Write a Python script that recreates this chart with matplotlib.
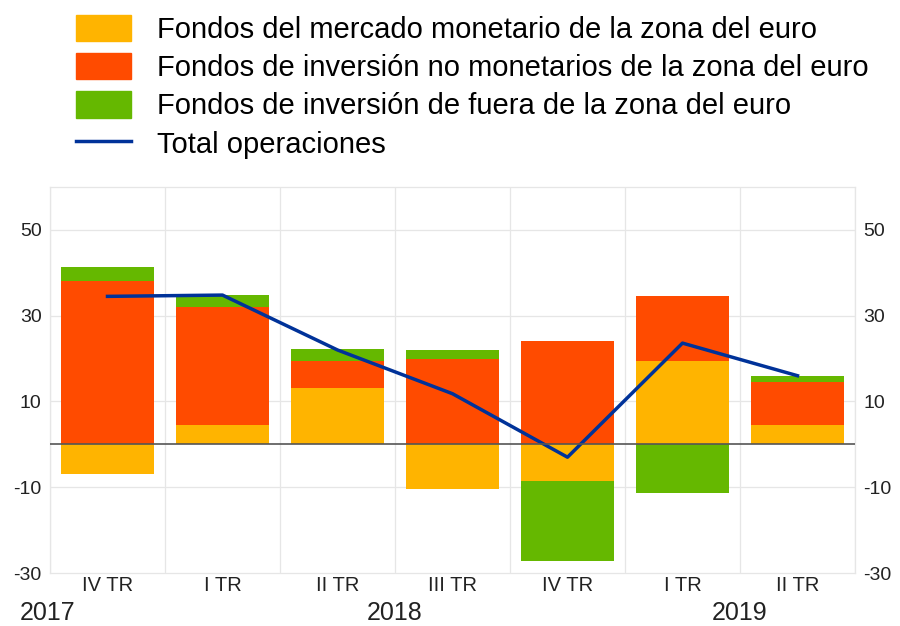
import numpy as np
import matplotlib.pyplot as plt
from matplotlib.patches import Patch
from matplotlib.lines import Line2D

plt.rcParams['font.family'] = ['Liberation Sans', 'DejaVu Sans']
plt.rcParams['axes.unicode_minus'] = False

# --- DATOS ---
trimestres = ['IV TR', 'I TR', 'II TR', 'III TR', 'IV TR', 'I TR', 'II TR']
anios = ['2017', '2018', '2019']
mercado_monetario = [-6.9, 4.4, 13.2, -10.4, -8.6, 19.5, 4.5]
no_monetarios = [38.1, 27.6, 6.3, 20.0, 24.0, 15.2, 10.1]
fuera_zona = [3.3, 2.8, 2.8, 1.9, -18.7, -11.4, 1.4]
total = [34.5, 34.8, 22.0, 11.8, -3.0, 23.6, 16.0]

labels = ['Fondos del mercado monetario de la zona del euro',
          'Fondos de inversión no monetarios de la zona del euro',
          'Fondos de inversión de fuera de la zona del euro',
          'Total operaciones']
colores = ['#FFB400', '#FF4B00', '#65B800']
azul = '#003299'

fig = plt.figure(figsize=(9, 6.26), dpi=100)
ax = fig.add_axes([50/900, 1 - 573/626, 805/900, (573 - 187)/626])

x = np.arange(len(trimestres))
w = 0.81

# apilado separado positivo / negativo
pos_base = np.zeros(len(x))
neg_base = np.zeros(len(x))
for serie, c in zip([mercado_monetario, no_monetarios, fuera_zona], colores):
    v = np.array(serie)
    base = np.where(v >= 0, pos_base, neg_base)
    ax.bar(x, v, w, bottom=base, color=c, zorder=2)
    pos_base = pos_base + np.where(v >= 0, v, 0)
    neg_base = neg_base + np.where(v < 0, v, 0)

ax.plot(x, total, color=azul, lw=2.5, zorder=3)
ax.axhline(0, color='#555555', lw=1.2, zorder=3)

ax.set_xlim(-0.5, len(x) - 0.5)
ax.set_ylim(-30, 60)
ax.set_yticks([-30, -10, 10, 30, 50])
ax.tick_params(axis='y', length=0, labelsize=14, colors='#222222', pad=6,
               labelleft=True, labelright=True)
for i in range(len(x) + 1):
    ax.axvline(i - 0.5, color='#e6e6e6', lw=0.9, zorder=0)
for yv in [-10, 10, 30, 50]:
    ax.axhline(yv, color='#e6e6e6', lw=0.9, zorder=0)
for s in ax.spines.values():
    s.set_color('#e6e6e6')
    s.set_linewidth(0.9)

ax.set_xticks(x)
ax.set_xticklabels(trimestres, fontsize=14.5)
ax.tick_params(axis='x', length=0, pad=2, colors='#222222')

# años
yr = -0.072
ax.text(-30/805, yr, anios[0], transform=ax.transAxes,
        fontsize=18, ha='left', va='top', color='#222222')
ax.text(2.5, yr, anios[1], transform=ax.get_xaxis_transform(),
        fontsize=18, ha='center', va='top', color='#222222')
ax.text(5.5, yr, anios[2], transform=ax.get_xaxis_transform(),
        fontsize=18, ha='center', va='top', color='#222222')

handles = [Patch(color=c) for c in colores] + [Line2D([], [], color=azul, lw=2.5)]
fig.legend(handles, labels, loc='upper left', bbox_to_anchor=(64/900, 1 - 3/626),
           frameon=False, fontsize=21, handlelength=1.9, handleheight=1.0,
           labelspacing=0.32, handletextpad=0.9, borderaxespad=0)

fig.savefig('out.png', dpi=100)
